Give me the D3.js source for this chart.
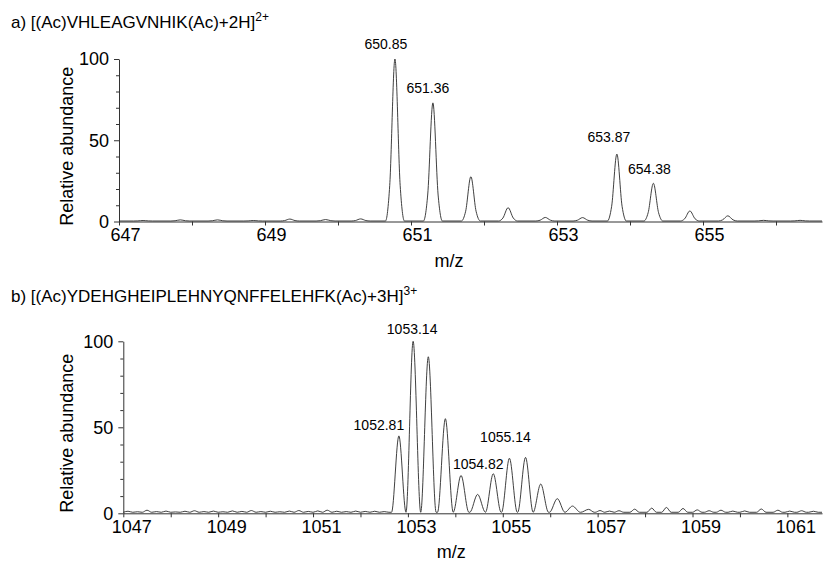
<!DOCTYPE html>
<html>
<head>
<meta charset="utf-8">
<script src="https://cdn.jsdelivr.net/npm/d3@7/dist/d3.min.js"></script>
<style>
  html, body { margin: 0; padding: 0; background: #fff; }
  svg { display: block; font-family: "Liberation Sans", Arial, sans-serif; }
</style>
</head>
<body>
<svg id="chart" width="823" height="561"></svg>
<script>
// ---------------- DATA ----------------
// Panel a) peaks (apex m/z, relative abundance)
const peakMzA  = [647.33, 647.84, 648.35, 648.84, 649.34, 649.83, 650.31, 650.78, 651.30, 651.82, 652.33, 652.84, 653.35, 653.82, 654.32, 654.82, 655.34, 655.83, 656.33];
const peakIntA = [0.6,    1.0,    1.0,    0.6,    1.5,    1.2,    1.6,    100,    73,     27.6,   8.5,    2.5,    2.4,    41.5,   23.5,   6.5,    3.5,    0.7,    0.7];
const labelTextA = ["650.85", "651.36", "653.87", "654.38"];
const labelPeakA = [650.78, 651.30, 653.82, 654.32];
const xTicksA = [647, 648, 649, 650, 651, 652, 653, 654, 655, 656];
const titleA = "a) [(Ac)VHLEAGVNHIK(Ac)+2H]";
const chargeA = "2+";

// Panel b) peaks
const peakMzB  = [1052.81, 1053.11, 1053.43, 1053.79, 1054.12, 1054.47, 1054.80, 1055.14, 1055.48, 1055.80, 1056.15, 1056.47, 1056.81];
const peakIntB = [45,      100,     91,      55,      22,      11,      23,      32,      32.5,    17,      8.5,     4.2,     2.3];
// Panel b) baseline noise bumps
const noiseMzB  = [1047.1,1047.3,1047.5,1047.7,1047.9,1048.1,1048.3,1048.5,1048.7,1048.9,1049.1,1049.3,1049.5,1049.7,1049.9,1050.1,1050.3,1050.5,1050.7,1050.9,1051.1,1051.3,1051.5,1051.7,1051.9,1052.1,1052.3,1052.5,1057.05,1057.25,1057.45,1057.78,1058.14,1058.45,1058.8,1059.1,1059.35,1059.6,1059.85,1060.1,1060.45,1060.8,1061.05,1061.3,1061.55];
const noiseIntB = [1.2,0.9,1.8,1.0,1.3,0.8,1.2,1.5,1.0,1.3,0.9,1.4,1.1,1.6,1.0,1.2,0.9,1.3,1.6,1.1,1.4,1.8,1.2,1.0,1.3,1.1,1.2,1.0,1.6,1.3,1.5,2.4,3.0,3.4,2.8,2.0,1.5,1.8,1.3,1.4,2.5,1.8,1.3,1.5,1.2];
const labelTextB = ["1052.81", "1053.14", "1054.82", "1055.14"];
const labelPeakB = [1052.81, 1053.11, 1054.80, 1055.14];
const xTicksB = [1047,1048,1049,1050,1051,1052,1053,1054,1055,1056,1057,1058,1059,1060,1061];
const titleB = "b) [(Ac)YDEHGHEIPLEHNYQNFFELEHFK(Ac)+3H]";
const chargeB = "3+";

const yTicks = [0, 10, 20, 30, 40, 50, 60, 70, 80, 90, 100];
const yLabelTicks = [0, 50, 100];

// ---------------- LAYOUT ----------------
const svg = d3.select("#chart");
const panels = [
  { title: titleA, charge: chargeA, titleY: 28,
    peaks: peakMzA.map((c, i) => ({ c, h: peakIntA[i], hb: 0.13, shape: "narrow" })),
    base: 0.3,
    x: d3.scaleLinear().domain([647, 656.63]).range([119, 822]),
    y: d3.scaleLinear().domain([0, 100]).range([221.5, 59]),
    xTicks: xTicksA, labelDx: 6, mzY: 267,
    labels: labelTextA.map((t, i) => ({ t, c: labelPeakA[i] })),
    labelOff: [[-9, -10], [-5, -10], [-8, -12], [-4, -9]],
    peakAt: c => peakIntA[peakMzA.indexOf(c)] },
  { title: titleB, charge: chargeB, titleY: 302,
    peaks: peakMzB.map((c, i) => ({ c, h: peakIntB[i], hb: 0.165, shape: "wide" }))
      .concat(noiseMzB.map((c, i) => ({ c, h: noiseIntB[i], hb: 0.1, shape: "wide" }))),
    base: 0.6,
    x: d3.scaleLinear().domain([1047, 1061.73]).range([123.3, 822]),
    y: d3.scaleLinear().domain([0, 100]).range([513.3, 341.3]),
    xTicks: xTicksB, labelDx: 8, mzY: 558,
    labels: labelTextB.map((t, i) => ({ t, c: labelPeakB[i] })),
    labelOff: [[-20, -6], [-1, -7], [-15, -5], [-4, -16]],
    peakAt: c => peakIntB[peakMzB.indexOf(c)] }
];

function buildProfile(peaks, base) {
  const ps = peaks.slice().sort((a, b) => a.c - b.c);
  const pts = [];
  ps.forEach((p, i) => {
    const prev = ps[i - 1], next = ps[i + 1];
    let left = p.c - p.hb, right = p.c + p.hb;
    if (prev && left < (prev.c + p.c) / 2) left = (prev.c + p.c) / 2;
    if (next && right > (next.c + p.c) / 2) right = (next.c + p.c) / 2;
    const add = (x, v) => {
      if (pts.length && Math.abs(pts[pts.length - 1][0] - x) < 1e-9) return;
      pts.push([x, v]);
    };
    add(left, base);
    if (p.shape === "narrow") {
      add(p.c - (p.c - left) * 0.55, base + (p.h - base) * 0.22);
      add(p.c, p.h);
      add(p.c + (right - p.c) * 0.55, base + (p.h - base) * 0.22);
    } else {
      add(p.c, p.h);
    }
    add(right, base);
  });
  return pts;
}

panels.forEach(P => {
  const g = svg.append("g");
  const [x0, x1] = P.x.range();
  const pts = buildProfile(P.peaks, P.base);
  const first = [P.x.invert(x0), P.base], last = [P.x.invert(x1), P.base];
  const all = [first].concat(pts.filter(d => d[0] > first[0] && d[0] < last[0])).concat([last]);

  // x axis
  const ax = d3.axisBottom(P.x).tickValues(P.xTicks).tickSize(4).tickSizeOuter(0)
    .tickPadding(3).tickFormat(d => (d % 2 !== 0 ? d : ""));
  const gx = g.append("g").attr("transform", `translate(0,${P.y(0)})`).call(ax);
  gx.selectAll("text").attr("font-size", 18).attr("fill", "#000").attr("dx", P.labelDx)
    .attr("font-family", "Liberation Sans, Arial, sans-serif");
  gx.selectAll("line, path").attr("stroke", "#333");

  // y axis
  const ay = d3.axisLeft(P.y).tickValues(yTicks).tickSize(3).tickSizeOuter(0)
    .tickPadding(7).tickFormat(d => (yLabelTicks.includes(d) ? d : ""));
  const gy = g.append("g").attr("transform", `translate(${x0},0)`).call(ay);
  gy.selectAll(".tick").filter(d => yLabelTicks.includes(d)).select("line").attr("x2", -5);
  gy.selectAll("text").attr("font-size", 18).attr("fill", "#000")
    .attr("font-family", "Liberation Sans, Arial, sans-serif");
  gy.selectAll("line, path").attr("stroke", "#333");

  // spectrum
  g.append("path").datum(all)
    .attr("fill", "none").attr("stroke", "#2a2a2a").attr("stroke-width", 0.9)
    .attr("d", d3.line().x(d => P.x(d[0])).y(d => P.y(d[1])).curve(d3.curveMonotoneX));

  // peak labels
  g.selectAll(".pl").data(P.labels).join("text")
    .attr("x", (d, i) => P.x(d.c) + P.labelOff[i][0])
    .attr("y", (d, i) => P.y(P.peakAt(d.c)) + P.labelOff[i][1])
    .attr("text-anchor", "middle").attr("font-size", 14).attr("fill", "#000")
    .text(d => d.t);

  // axis titles
  g.append("text").attr("x", (P.x.range()[0] + 783) / 2 - 2).attr("y", P.mzY)
    .attr("text-anchor", "middle").attr("font-size", 18).text("m/z");
  const yc = (P.y(0) + P.y(100)) / 2 + 6;
  g.append("text").attr("transform", `translate(73,${yc}) rotate(-90)`)
    .attr("text-anchor", "middle").attr("font-size", 18).text("Relative abundance");

  // panel title
  const t = g.append("text").attr("x", 11).attr("y", P.titleY).attr("font-size", 17).attr("fill", "#000");
  t.append("tspan").text(P.title);
  t.append("tspan").attr("dy", -7).attr("font-size", 12).text(P.charge);
});
</script>
</body>
</html>
